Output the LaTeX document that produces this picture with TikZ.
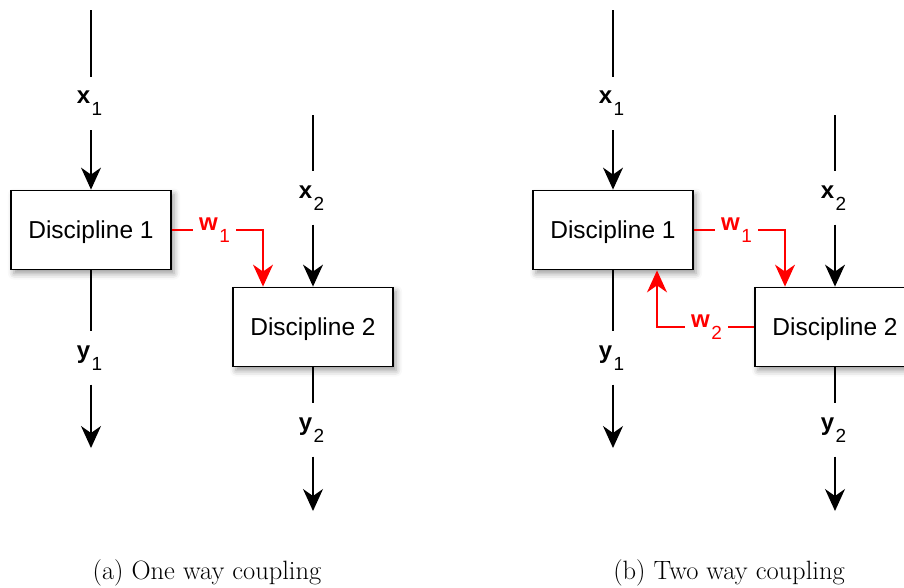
\documentclass[tikz,border=0pt]{standalone}
\usepackage{fontspec}
\usetikzlibrary{arrows.meta,shadows.blur}
\newfontfamily\lblfont{Liberation Sans}
% bold variable name with a lowered plain subscript
\newcommand\varlab[2]{{\bfseries #1}\kern1.5pt\raisebox{-12pt}{\fontsize{19}{19}\selectfont #2}}

\begin{document}
\begin{tikzpicture}[x=1pt,y=-1pt,
  disc/.style={draw, line width=1.8pt, fill=white, minimum width=160pt,
    minimum height=79pt, inner sep=0pt, text height=17.5pt, text depth=0pt,
    font=\lblfont\fontsize{24.5}{24.5}\selectfont,
    blur shadow={shadow xshift=3pt, shadow yshift=-4pt, shadow blur radius=6pt,
      shadow opacity=40}},
  var/.style={inner sep=0pt, minimum width=43pt, minimum height=53pt,
    font=\lblfont\fontsize{24}{24}\selectfont},
  flow/.style={line width=1.5pt},
  tip/.style={-{Stealth[length=22pt,width=20pt,inset=7pt]}},
  coup/.style={red, line width=1.5pt},
  subcap/.style={font=\fontsize{26.5}{30}\selectfont}
]
\useasboundingbox (0,0) rectangle (904,587);

% ---------------- (a) one way coupling ----------------
\node[disc] (a1) at (91,230) {Discipline 1};
\node[disc] (a2) at (313,327) {Discipline 2};

\coordinate (ax1top) at (91,10);
\node[var] (ax1) at (89.5,103.5) {\varlab{x}{1}};
\node[var] (ay1) at (89.5,358) {\varlab{y}{1}};
\coordinate (ay1end) at (91,448);

\coordinate (ax2top) at (313,115);
\node[var] (ax2) at (311.5,198) {\varlab{x}{2}};
\node[var] (ay2) at (311.5,430) {\varlab{y}{2}};
\coordinate (ay2end) at (313,511);

\node[var, red] (aw1) at (214.5,230) {\varlab{w}{1}};
\coordinate (ak1) at (263,230);

\draw[flow] (ax1top) -- (ax1top |- ax1.north);
\draw[flow,tip] (ax1top |- ax1.south) -- (a1.north);
\draw[flow] (a1.south) -- (a1.south |- ay1.north);
\draw[flow,tip] (a1.south |- ay1.south) -- (ay1end);

\draw[flow] (ax2top) -- (ax2top |- ax2.north);
\draw[flow,tip] (ax2top |- ax2.south) -- (a2.north);
\draw[flow] (a2.south) -- (a2.south |- ay2.north);
\draw[flow,tip] (a2.south |- ay2.south) -- (ay2end);

\draw[coup] (a1.east) -- (aw1.west);
\draw[coup,tip] (aw1.east) -- (ak1) -- (ak1 |- a2.north);

\node[subcap] (capa) at (207,573) {(a) One way coupling};

% ---------------- (b) two way coupling ----------------
\node[disc] (b1) at (613,230) {Discipline 1};
\node[disc] (b2) at (835,327) {Discipline 2};

\coordinate (bx1top) at (613,10);
\node[var] (bx1) at (611.5,103.5) {\varlab{x}{1}};
\node[var] (by1) at (611.5,358) {\varlab{y}{1}};
\coordinate (by1end) at (613,448);

\coordinate (bx2top) at (835,115);
\node[var] (bx2) at (833.5,198) {\varlab{x}{2}};
\node[var] (by2) at (833.5,430) {\varlab{y}{2}};
\coordinate (by2end) at (835,511);

\node[var, red] (bw1) at (736.5,230) {\varlab{w}{1}};
\coordinate (bk1) at (785,230);
\node[var, red] (bw2) at (706.5,327) {\varlab{w}{2}};
\coordinate (bk2) at (657,327);

\draw[flow] (bx1top) -- (bx1top |- bx1.north);
\draw[flow,tip] (bx1top |- bx1.south) -- (b1.north);
\draw[flow] (b1.south) -- (b1.south |- by1.north);
\draw[flow,tip] (b1.south |- by1.south) -- (by1end);

\draw[flow] (bx2top) -- (bx2top |- bx2.north);
\draw[flow,tip] (bx2top |- bx2.south) -- (b2.north);
\draw[flow] (b2.south) -- (b2.south |- by2.north);
\draw[flow,tip] (b2.south |- by2.south) -- (by2end);

\draw[coup] (b1.east) -- (bw1.west);
\draw[coup,tip] (bw1.east) -- (bk1) -- (bk1 |- b2.north);
\draw[coup] (b2.west) -- (bw2.east);
\draw[coup,tip] (bw2.west) -- (bk2) -- (bk2 |- b1.south);

\node[subcap] (capb) at (729,573) {(b) Two way coupling};
\end{tikzpicture}
\end{document}
